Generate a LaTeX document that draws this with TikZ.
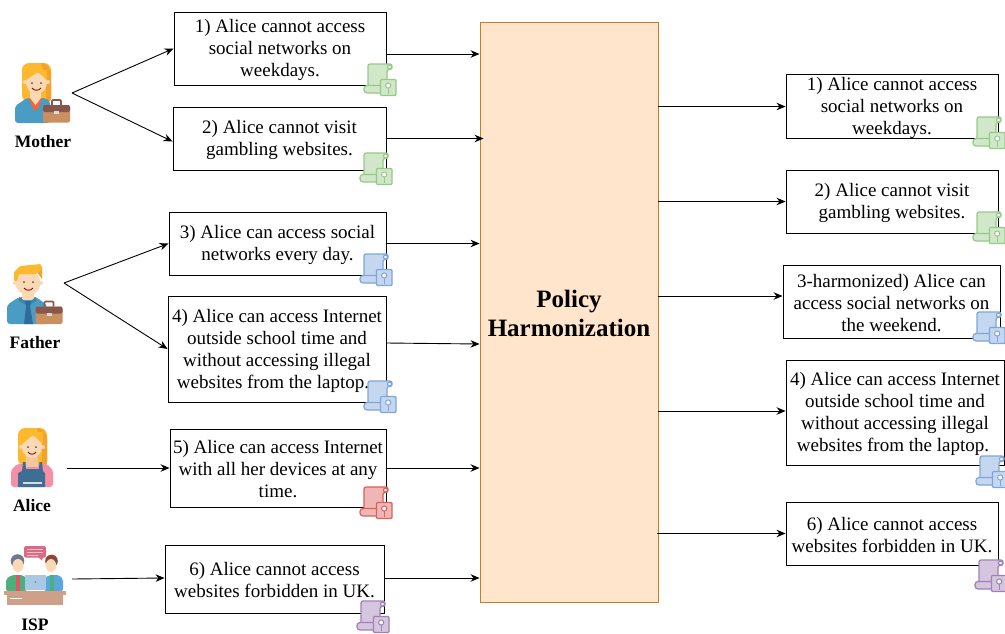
\documentclass[tikz,border=0pt]{standalone}
\usepackage{fontspec}
\setmainfont{Liberation Serif}
\usetikzlibrary{arrows.meta}
\definecolor{skin}{HTML}{FBD9B5}
\definecolor{skind}{HTML}{F3C79B}
\definecolor{hairy}{HTML}{FDB92E}
\definecolor{hairo}{HTML}{F99F2B}
\definecolor{suit}{HTML}{4A9CC4}
\definecolor{tied}{HTML}{2F6C9E}
\definecolor{caseb}{HTML}{C98F5F}
\definecolor{cased}{HTML}{86574A}
\definecolor{apron}{HTML}{3F6E94}
\definecolor{rosa}{HTML}{F48FA6}
\definecolor{bubble}{HTML}{DD6A83}
\definecolor{shirtg}{HTML}{4DAF7C}
\definecolor{shirtb}{HTML}{5AA7E0}
\definecolor{laptop}{HTML}{A9C8E4}
\definecolor{desk}{HTML}{CFA088}
\definecolor{headg}{HTML}{6D7B8E}
\definecolor{headm}{HTML}{8E4436}
\definecolor{tier}{HTML}{E05568}
\definecolor{sgreen}{HTML}{97C987}
\definecolor{sblue}{HTML}{7FA6DA}
\definecolor{sred}{HTML}{D9605C}
\definecolor{spurple}{HTML}{A080B5}
\newcommand{\dropline}{\rule{0pt}{16.2pt}}
\tikzset{
  polbox/.style={draw=black,fill=white,line width=0.9,inner sep=0,align=center,font=\fontsize{19}{22}\selectfont},
  conn/.style={draw=black,line width=0.9,-{Stealth[length=9,width=7.5]}},
  who/.style={font=\fontsize{17.5}{20}\selectfont\bfseries,inner sep=0},
  scrollicon/.pic={
    \path[fill=#1!45!white,draw=#1,line width=1.2,rounded corners=2]
      (4,0) -- (28,0) -- (28,5.5) -- (23,5.5) -- (23,23) -- (4,23) -- cycle;
    \path[fill=white,draw=#1,line width=1.2] (25.5,3) circle (2);
    \path[fill=#1!45!white,draw=#1,line width=1.2,rounded corners=3] (0,21.5) rectangle (20,29);
    \path[fill=#1!45!white,draw=#1,line width=1.2,rounded corners=1] (16.5,15.5) rectangle (32,31.5);
    \path[fill=white,draw=#1,line width=1] (24.2,21.5) circle (2.6);
    \draw[#1,line width=1.4] (24.2,24) -- (24.2,29.5);
  },
  briefcase/.pic={
    \draw[cased,line width=1.7,rounded corners=1] (9,6) -- (9,1) -- (18,1) -- (18,6);
    \fill[caseb,rounded corners=2] (0,6) rectangle (27,23.5);
    \fill[cased,rounded corners=2] (0,6) -- (27,6) -- (27,13) -- (0,13) -- cycle;
    \fill[white!85!black] (11,12) rectangle (16,15);
  }
}
\begin{document}
\begin{tikzpicture}[x=1pt,y=-1pt]
\useasboundingbox (0,0) rectangle (1005,633);
\fill[white] (0,0) rectangle (1005,633);

% centre block
\node[draw=hairo!80!black,fill=orange!20!white,line width=0.9,minimum width=178,minimum height=580,inner sep=0,align=center,
      font=\fontsize{25}{29}\selectfont\bfseries] (policy) at (569,312) {\rule{0pt}{21pt}Policy\\Harmonization};

% left policies
\node[polbox,minimum width=212,minimum height=73] (l1) at (280,48.5) {\dropline 1) Alice cannot access\\social networks on\\weekdays.};
\node[polbox,minimum width=213,minimum height=63] (l2) at (279.5,138.5) {\dropline 2) Alice cannot visit\\gambling websites.};
\node[polbox,minimum width=217,minimum height=63] (l3) at (277.5,243.5) {\dropline 3) Alice can access social\\networks every day.};
\node[polbox,minimum width=218,minimum height=106] (l4) at (277,349) {\dropline 4) Alice can access Internet\\outside school time and\\without accessing illegal\\websites from the laptop.\kern8pt};
\node[polbox,minimum width=216,minimum height=78] (l5) at (278,468) {\dropline 5) Alice can access Internet\\with all her devices at any\\time.};
\node[polbox,minimum width=219,minimum height=68] (l6) at (274.5,579) {\dropline 6) Alice cannot access\\websites forbidden in UK.};

% right policies
\node[polbox,minimum width=212,minimum height=63] (r1) at (892,106.5) {\dropline 1) Alice cannot access\\social networks on\\weekdays.};
\node[polbox,minimum width=212,minimum height=63] (r2) at (892,201.5) {\dropline 2) Alice cannot visit\\gambling websites.};
\node[polbox,minimum width=217,minimum height=73] (r3) at (891.5,301.5) {\dropline 3-harmonized) Alice can\\access social networks on\\the weekend.};
\node[polbox,minimum width=218,minimum height=105] (r4) at (895,412.5) {\dropline 4) Alice can access Internet\\outside school time and\\without accessing illegal\\websites from the laptop.\kern4pt};
\node[polbox,minimum width=212,minimum height=63] (r5) at (892,533.5) {\dropline 6) Alice cannot access\\websites forbidden in UK.};

% scroll icons
\pic at (364,64) {scrollicon=sgreen};
\pic at (360,153) {scrollicon=sgreen};
\pic at (360,254) {scrollicon=sblue};
\pic at (364,381) {scrollicon=sblue};
\pic at (360,487) {scrollicon=sred};
\pic at (357,601) {scrollicon=spurple};
\pic at (973,117) {scrollicon=sgreen};
\pic at (973,212) {scrollicon=sgreen};
\pic at (973,312) {scrollicon=sblue};
\pic at (976,456) {scrollicon=sblue};
\pic at (975,560) {scrollicon=spurple};

% Mother
\fill[hairy,rounded corners=7] (22,102) -- (22,63) -- (51,63) -- (51,102) -- cycle;
\fill[hairo,rounded corners=3] (40,63) -- (45,63) -- (51,71) -- (51,102) -- (46,102) -- (46,74) -- cycle;
\fill[suit,rounded corners=3] (15,123) -- (15,106) -- (27,98) -- (45,98) -- (50,101) -- (50,123) -- cycle;
\fill[skin] (30,90) rectangle (41,99);
\fill[red!55!orange!80!white] (29,98) -- (42,98) -- (37,110) -- (34,110) -- cycle;
\fill[skin] (30,98) -- (41,98) -- (35.5,105) -- cycle;
\fill[skin] (36.5,83) ellipse (10.5 and 10.5);
\fill[skin] (25,82) circle (2) (48,82) circle (2);
\fill[hairy] (26,80) -- (38,72) -- (47,80) -- (47,70) -- (26,70) -- cycle;
\fill[black!70] (32,83) circle (1) (41,83) circle (1);
\draw[red!60!black,line width=0.9] (32,88) .. controls (34,91) and (39,91) .. (41,88);
\pic at (43,99) {briefcase};
\node[who] (mother) at (43,142) {Mother};
\coordinate (mo) at (72,93);

% Father
\fill[suit,rounded corners=3] (7,324) -- (7,305) -- (19,297) -- (36,297) -- (47,305) -- (47,324) -- cycle;
\fill[skin] (22,291) rectangle (34,300);
\fill[suit!85!black] (19,297) -- (28,303) -- (36,297) -- (36,301) -- (28,306) -- (19,301) -- cycle;
\fill[tied] (25,301) -- (31,301) -- (30,306) -- (33,324) -- (24,324) -- (26,306) -- cycle;
\fill[skin] (28,283) ellipse (12.5 and 12);
\fill[skin] (15,283) circle (2) (41,283) circle (2);
\fill[hairo] (37,272) -- (42,266) -- (42,279) -- cycle;
\fill[hairy,rounded corners=1] (14,281) -- (14,272) -- (20,266) -- (41,264) -- (41,271) -- (36,274) -- (19,274) -- (17,281) -- cycle;
\fill[black!70] (24,282) circle (1) (33,282) circle (1);
\draw[red!60!black,line width=0.9] (24,288) .. controls (26,291) and (31,291) .. (33,288);
\pic at (35.5,300.5) {briefcase};
\node[who] (father) at (35,343) {Father};
\coordinate (fa) at (64,283);

% Alice
\fill[hairy,rounded corners=7] (18,466) -- (18,428) -- (47,428) -- (47,466) -- cycle;
\fill[hairo,rounded corners=3] (36,428) -- (41,428) -- (47,436) -- (47,466) -- (42,466) -- (42,440) -- cycle;
\fill[rosa,rounded corners=3] (11,487) -- (11,470) -- (17,464) -- (47,464) -- (53,470) -- (53,487) -- cycle;
\fill[skind] (26,455) rectangle (38,467);
\fill[skin] (32,447) ellipse (10 and 11);
\fill[skin] (21,447) circle (2) (43,447) circle (2);
\fill[hairy] (22,444) -- (33,435) -- (43,444) -- (43,432) -- (22,432) -- cycle;
\fill[black!70] (28,447) circle (1) (36,447) circle (1);
\draw[red!60!black,line width=0.9] (28,452) .. controls (30,455) and (34,455) .. (36,452);
\fill[apron] (18,487) -- (18,473) -- (22,471) -- (23,462) -- (25.5,462) -- (26,469) -- (39,469) -- (39.5,462) -- (42,462) -- (43,471) -- (45,473) -- (45,487) -- cycle;
\fill[white!85!black] (23,482) rectangle (42,484);
\node[who] (alice) at (32,506) {Alice};
\coordinate (al) at (67,468);

% ISP
\fill[bubble,rounded corners=1.5] (24,546) rectangle (46,557.5);
\fill[bubble] (38,557) -- (43,557) -- (42,560.5) -- cycle;
\draw[white!60!bubble,line width=0.8] (27,549) -- (43,549) (27,552) -- (43,552) (27,555) -- (38,555);
\fill[shirtg,rounded corners=2] (6,591) -- (6,579) -- (12,575) -- (23,575) -- (27,579) -- (27,591) -- cycle;
\fill[headg] (17.5,561) circle (6.8);
\fill[skin] (18,565.5) ellipse (5.5 and 6.5);
\fill[tier] (15.5,575) rectangle (19.5,591);
\fill[shirtb,rounded corners=2] (44,591) -- (44,579) -- (49,575) -- (59,575) -- (63,579) -- (63,591) -- cycle;
\fill[headm] (51.5,561) circle (6.3);
\fill[skin] (51,565.5) ellipse (5.2 and 6.5);
\fill[shirtg] (50,575) rectangle (53.5,591);
\fill[laptop] (25,575) rectangle (46,590);
\fill[black!50] (35.5,582) circle (0.8);
\fill[desk] (4,591) rectangle (66,595);
\fill[desk] (7,595) rectangle (63,605);
\draw[white,line width=0.8] (10,598) -- (22,598);
\node[who] (isp) at (35,624.5) {ISP};
\coordinate (is) at (72,579);

% connectors
\draw[conn] (mo) -- (l1.west);
\draw[conn] (mo) -- ([yshift=-3]l2.west);
\draw[conn] (fa) -- (l3.west);
\draw[conn] (fa) -- (l4.west);
\draw[conn] (al) -- (l5.west);
\draw[conn] (is) -- ([yshift=1]l6.west);
\draw[conn] ([yshift=-5.5]l1.east) -- ([yshift=-5.5]policy.west |- l1.east);
\draw[conn] (l2.east) -- ([xshift=4]policy.west |- l2.east);
\draw[conn] (l3.east) -- (policy.west |- l3.east);
\draw[conn] ([yshift=6]l4.east) -- ([yshift=5]policy.west |- l4.east);
\draw[conn] (l5.east) -- (policy.west |- l5.east);
\draw[conn] ([yshift=1]l6.east) -- ([yshift=1]policy.west |- l6.east);
\draw[conn] (policy.east |- r1.west) -- (r1.west);
\draw[conn] (policy.east |- r2.west) -- (r2.west);
\draw[conn] ([yshift=5.5]policy.east |- r3.west) -- ([yshift=5.5]r3.west);
\draw[conn] ([yshift=1.5]policy.east |- r4.west) -- ([yshift=1.5]r4.west);
\draw[conn] ([xshift=-1]policy.east |- r5.west) -- (r5.west);
\end{tikzpicture}
\end{document}
